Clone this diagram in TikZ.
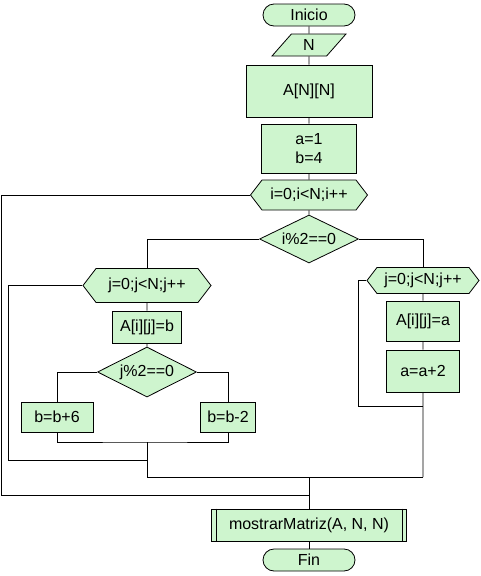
\documentclass[tikz,border=0pt]{standalone}
\usepackage{fontspec}
\setmainfont{Liberation Sans}
\usetikzlibrary{shapes.geometric,shapes.symbols,calc}
\definecolor{verdeclaro}{RGB}{206,245,206}

\begin{document}
\begin{tikzpicture}[x=1pt,y=-1pt,line width=0.8pt,
  every node/.style={font=\fontsize{16}{19}\selectfont, inner sep=0pt},
  caja/.style={draw, fill=verdeclaro, rectangle, align=center},
  terminal/.style={caja, rounded corners=11pt, minimum width=92pt, minimum height=22pt},
  entrada/.style={caja, trapezium, trapezium left angle=60, trapezium right angle=120,
    trapezium stretches=true, minimum width=74pt, minimum height=22pt},
  ciclo/.style={caja, signal, signal to=west and east, signal pointer angle=105},
  decision/.style={caja, diamond, aspect=2.1}]
\useasboundingbox (0,0) rectangle (480,576);

% tronco principal
\node[terminal] (ini) at (309,15) {Inicio};
\node[entrada] (n) at (309,45) {N};
\node[caja, minimum width=126pt, minimum height=52pt] (mat) at (309,91) {A[N][N]};
\node[caja, minimum width=95pt, minimum height=49pt] (ab) at (309,148.5) {a=1\\b=4};
\node[ciclo, minimum width=117pt, minimum height=30pt] (fori) at (309,195) {i=0;i<N;i++};
\node[decision, minimum width=99pt, minimum height=48pt] (cond) at (309,239) {i\%2==0};

% rama izquierda
\node[ciclo, minimum width=128pt, minimum height=34pt] (forjb) at (147,285.5) {j=0;j<N;j++};
\node[caja, minimum width=69pt, minimum height=32pt] (asigb) at (147,327) {A[i][j]=b};
\node[decision, minimum width=99pt, minimum height=50pt] (condj) at (147,372) {j\%2==0};
\node[caja, minimum width=72pt, minimum height=30pt] (bmas) at (57,417) {b=b+6};
\node[caja, minimum width=55pt, minimum height=30pt] (bmenos) at (228,417) {b=b-2};

% rama derecha
\node[ciclo, minimum width=112pt, minimum height=26pt] (forja) at (423,280.5) {j=0;j<N;j++};
\node[caja, minimum width=73pt, minimum height=40pt] (asiga) at (423,321) {A[i][j]=a};
\node[caja, minimum width=73pt, minimum height=42pt] (amas) at (423,371) {a=a+2};

% final
\node[caja, minimum width=195pt, minimum height=32pt] (llamada) at (309,525) {mostrarMatriz(A, N, N)};
\draw ($(llamada.north west)+(5,0)$) -- ($(llamada.south west)+(5,0)$);
\draw ($(llamada.north east)+(-5,0)$) -- ($(llamada.south east)+(-5,0)$);
\node[terminal] (fin) at (309,560) {Fin};

% puntos de union
\coordinate (ui) at (147,442);
\coordinate (ub) at (147,460);
\coordinate (uc) at (147,477);
\coordinate (ud) at (423,406);
\coordinate (ue) at (423,477);
\coordinate (uf) at (309,477);
\coordinate (ug) at (309,495);

\draw (ini) -- (n) -- (mat) -- (ab) -- (fori) -- (cond);
\draw (cond.west) -| (forjb.north);
\draw (cond.east) -| (forja.north);
\draw (forjb) -- (asigb) -- (condj);
\draw (condj.west) -| (bmas.north);
\draw (condj.east) -| (bmenos.north);
\draw (bmas.south) |- (ui) -| (bmenos.south);
\draw (ui) -- (uc);
\draw (forjb.west) -- (8,285.5) |- (ub);
\draw (forja) -- (asiga) -- (amas) -- (ue);
\draw (forja.west) -- (358,280.5) |- (ud);
\draw (uc) -- (ue);
\draw (uf) -- (llamada.north);
\draw (fori.west) -- (1,195) |- (ug);
\draw (llamada) -- (fin);
\end{tikzpicture}
\end{document}
